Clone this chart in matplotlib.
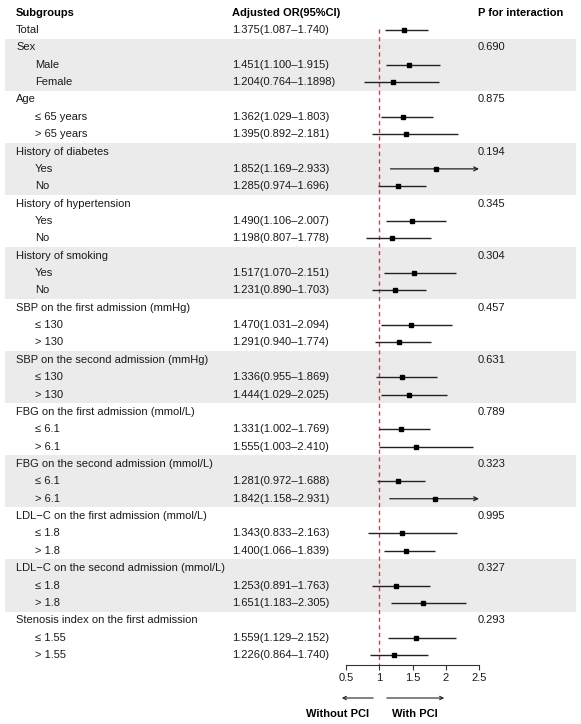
import matplotlib
matplotlib.use("Agg")
import matplotlib.pyplot as plt
from matplotlib.patches import Rectangle, FancyArrowPatch
from matplotlib.transforms import blended_transform_factory

plt.rcParams['font.family'] = ['Liberation Sans', 'DejaVu Sans']

# ---------------- data ----------------
total_label = "Total"
total_or = 1.375
total_lo = 1.087
total_hi = 1.740
total_text = "1.375(1.087\u20131.740)"

group_names = [
    "Sex", "Age", "History of diabetes", "History of hypertension",
    "History of smoking", "SBP on the first admission (mmHg)",
    "SBP on the second admission (mmHg)", "FBG on the first admission (mmol/L)",
    "FBG on the second admission (mmol/L)", "LDL\u2212C on the first admission (mmol/L)",
    "LDL\u2212C on the second admission (mmol/L)", "Stenosis index on the first admission",
]
group_p = ["0.690", "0.875", "0.194", "0.345", "0.304", "0.457",
           "0.631", "0.789", "0.323", "0.995", "0.327", "0.293"]
sub_labels = [
    ["Male", "Female"],
    ["\u2264 65 years", "> 65 years"],
    ["Yes", "No"],
    ["Yes", "No"],
    ["Yes", "No"],
    ["\u2264 130", "> 130"],
    ["\u2264 130", "> 130"],
    ["\u2264 6.1", "> 6.1"],
    ["\u2264 6.1", "> 6.1"],
    ["\u2264 1.8", "> 1.8"],
    ["\u2264 1.8", "> 1.8"],
    ["\u2264 1.55", "> 1.55"],
]
sub_or = [[1.451, 1.204], [1.362, 1.395], [1.852, 1.285], [1.490, 1.198],
          [1.517, 1.231], [1.470, 1.291], [1.336, 1.444], [1.331, 1.555],
          [1.281, 1.842], [1.343, 1.400], [1.253, 1.651], [1.559, 1.226]]
sub_lo = [[1.100, 0.764], [1.029, 0.892], [1.169, 0.974], [1.106, 0.807],
          [1.070, 0.890], [1.031, 0.940], [0.955, 1.029], [1.002, 1.003],
          [0.972, 1.158], [0.833, 1.066], [0.891, 1.183], [1.129, 0.864]]
sub_hi = [[1.915, 1.898], [1.803, 2.181], [2.933, 1.696], [2.007, 1.778],
          [2.151, 1.703], [2.094, 1.774], [1.869, 2.025], [1.769, 2.410],
          [1.688, 2.931], [2.163, 1.839], [1.763, 2.305], [2.152, 1.740]]
sub_text = [
    ["1.451(1.100\u20131.915)", "1.204(0.764\u20131.1898)"],
    ["1.362(1.029\u20131.803)", "1.395(0.892\u20132.181)"],
    ["1.852(1.169\u20132.933)", "1.285(0.974\u20131.696)"],
    ["1.490(1.106\u20132.007)", "1.198(0.807\u20131.778)"],
    ["1.517(1.070\u20132.151)", "1.231(0.890\u20131.703)"],
    ["1.470(1.031\u20132.094)", "1.291(0.940\u20131.774)"],
    ["1.336(0.955\u20131.869)", "1.444(1.029\u20132.025)"],
    ["1.331(1.002\u20131.769)", "1.555(1.003\u20132.410)"],
    ["1.281(0.972\u20131.688)", "1.842(1.158\u20132.931)"],
    ["1.343(0.833\u20132.163)", "1.400(1.066\u20131.839)"],
    ["1.253(0.891\u20131.763)", "1.651(1.183\u20132.305)"],
    ["1.559(1.129\u20132.152)", "1.226(0.864\u20131.740)"],
]
x_ticks = [0.5, 1, 1.5, 2, 2.5]
x_tick_labels = ["0.5", "1", "1.5", "2", "2.5"]
header_sub = "Subgroups"
header_or = "Adjusted OR(95%CI)"
header_p = "P for interaction"
left_label = "Without PCI"
right_label = "With PCI"

# ---------------- layout ----------------
W, H = 581, 724
fig = plt.figure(figsize=(W / 100, H / 100), dpi=100)
ax_left = 346 / W
ax_right = 479 / W
ax_bottom = 1 - 665 / H
ax = fig.add_axes([ax_left, ax_bottom, ax_right - ax_left, 1 - ax_bottom])
row_px = 17.36
y_top = 1 - 30 / row_px
y_bot = 1 + (665 - 30) / row_px
ax.set_xlim(0.5, 2.5)
ax.set_ylim(y_bot, y_top)
ax.patch.set_alpha(0)

tr = blended_transform_factory(fig.transFigure, ax.transData)
FS = 8.0
x_col1 = 16 / W
x_col1b = 35 / W
x_col2 = 232 / W
x_col3 = 478 / W
shade = "#EBEBEB"
txt_color = "#1a1a1a"

# headers
ax.text(x_col1, 0, header_sub, transform=tr, fontsize=FS, fontweight="bold", va="center")
ax.text(x_col2, 0, header_or, transform=tr, fontsize=FS, fontweight="bold", va="center")
ax.text(x_col3, 0, header_p, transform=tr, fontsize=FS, fontweight="bold", va="center")

def draw_ci(y, est, lo, hi):
    hi_c = min(hi, 2.5)
    lo_c = max(lo, 0.5)
    if hi > 2.5:
        ax.annotate("", xy=(hi_c, y), xytext=(lo_c, y),
                    arrowprops=dict(arrowstyle="->", color="#222222", lw=0.9,
                                    shrinkA=0, shrinkB=0, mutation_scale=7),
                    zorder=3)
    else:
        ax.plot([lo_c, hi_c], [y, y], color="#222222", lw=1.0, zorder=3,
                solid_capstyle="butt")
    ax.plot([est], [y], marker="s", color="black", ms=3.2, zorder=4, linestyle="none")

# Total
ax.text(x_col1, 1, total_label, transform=tr, fontsize=FS, va="center", color=txt_color)
ax.text(x_col2, 1, total_text, transform=tr, fontsize=FS, va="center", color=txt_color)
draw_ci(1, total_or, total_lo, total_hi)

row = 2
for gi, name in enumerate(group_names):
    n_sub = len(sub_labels[gi])
    if gi % 2 == 0:
        rect = Rectangle((5 / W, row - 0.5), (576 - 5) / W, n_sub + 1,
                         transform=tr, facecolor=shade, edgecolor="none",
                         zorder=0, clip_on=False)
        ax.add_patch(rect)
    ax.text(x_col1, row, name, transform=tr, fontsize=FS, va="center", color=txt_color)
    ax.text(x_col3, row, group_p[gi], transform=tr, fontsize=FS, va="center", color=txt_color)
    for si in range(n_sub):
        y = row + 1 + si
        ax.text(x_col1b, y, sub_labels[gi][si], transform=tr, fontsize=FS, va="center",
                color=txt_color)
        ax.text(x_col2, y, sub_text[gi][si], transform=tr, fontsize=FS, va="center",
                color=txt_color)
        draw_ci(y, sub_or[gi][si], sub_lo[gi][si], sub_hi[gi][si])
    row += n_sub + 1

# reference line
ax.plot([1, 1], [0.95, y_bot], color="#F0303A", lw=1.0, linestyle=(0, (3, 2.5)), zorder=2,
        clip_on=False)

# axis styling
for s in ["top", "right", "left"]:
    ax.spines[s].set_visible(False)
ax.spines["bottom"].set_color("#333333")
ax.spines["bottom"].set_linewidth(0.8)
ax.set_yticks([])
ax.set_xticks(x_ticks)
ax.set_xticklabels(x_tick_labels)
ax.tick_params(axis="x", length=3.5, width=0.8, color="#333333", labelsize=FS, pad=2.5,
               labelcolor=txt_color)

# direction arrows
ya = 1 - 698 / H
fig.patches.append(FancyArrowPatch(
    (376 / W, ya), (339 / W, ya), transform=fig.transFigure,
    arrowstyle="->", mutation_scale=6, lw=0.8, color="#222222"))
fig.patches.append(FancyArrowPatch(
    (384 / W, ya), (447 / W, ya), transform=fig.transFigure,
    arrowstyle="->", mutation_scale=6, lw=0.8, color="#222222"))
yt = 1 - 714 / H
fig.text(338 / W, yt, left_label, fontsize=FS, fontweight="bold", ha="center", va="center")
fig.text(415 / W, yt, right_label, fontsize=FS, fontweight="bold", ha="center", va="center")

fig.savefig("out.png", dpi=100)
